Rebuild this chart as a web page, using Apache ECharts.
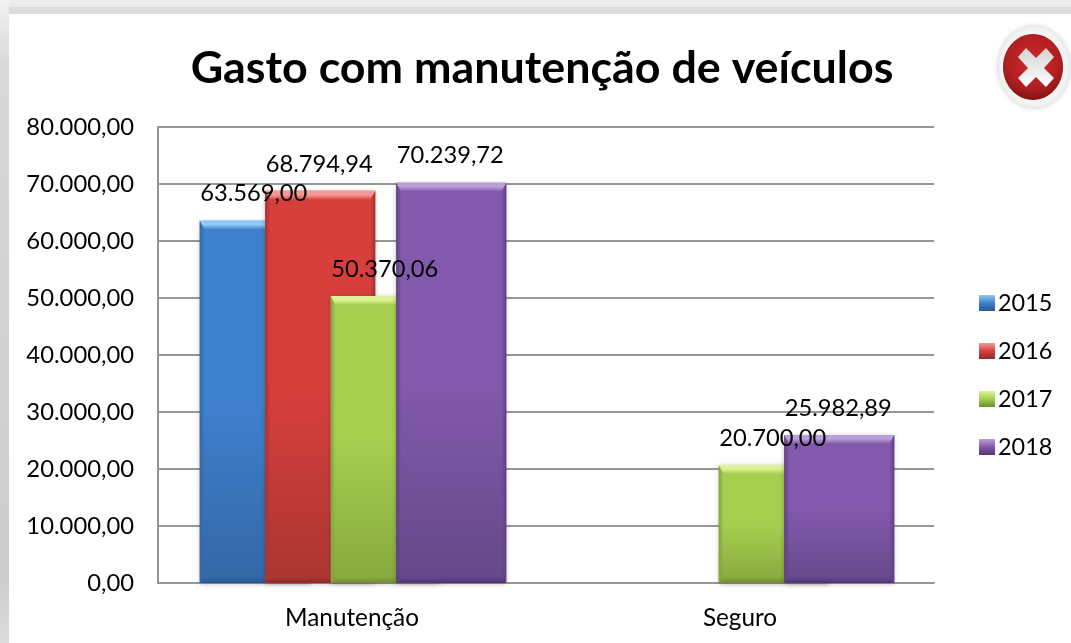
<!DOCTYPE html>
<html><head><meta charset="utf-8">
<style>html,body{margin:0;padding:0;background:#fff}#c{width:1071px;height:643px}</style>
<script src="https://cdn.jsdelivr.net/npm/echarts@6/dist/echarts.min.js"></script></head>
<body><div id="c"></div>
<script>
const categories = ['Manutenção', 'Seguro'];
const years = ['2015', '2016', '2017', '2018'];
const v2015 = [63569.00, null];
const v2016 = [68794.94, null];
const v2017 = [50370.06, 20700.00];
const v2018 = [70239.72, 25982.89];
const yTicks = [0, 80000, 10000];
const seriesValues = [v2015, v2016, v2017, v2018];
const palette = [
  {base:'#3f80cd', top:'#8fc8f7', side:'#34699f', bot:'#2a5a94', low:'#3467a6'},
  {base:'#d73f3c', top:'#f59a96', side:'#a83230', bot:'#8f2a28', low:'#ab3533'},
  {base:'#a6cf50', top:'#dcf294', side:'#82a340', bot:'#6f8c34', low:'#87a83e'},
  {base:'#8259ac', top:'#b9a0d8', side:'#5f4080', bot:'#4f3570', low:'#664889'}
];
const FONT = 'Lato, "Open Sans", sans-serif';
const fmt = v => v.toLocaleString('de-DE', {minimumFractionDigits: 2, maximumFractionDigits: 2});
const BAR = 110, STEP = 65.5, BT = 9, BS = 5, BB = 6;
const leftOf = (p, i) => p + 1 - (BAR + 3 * STEP) / 2 + i * STEP;

function renderBar(sIdx) {
  return function (params, api) {
    const v = api.value(1);
    if (v == null || isNaN(v)) return null;
    const p = api.coord([api.value(0), v]);
    const p0 = api.coord([api.value(0), 0]);
    const x = leftOf(p[0], sIdx), y = p[1], h = p0[1] - p[1], c = palette[sIdx];
    const G = echarts.graphic.LinearGradient;
    const body = new G(0, 0, 0, 1, [
      {offset: 0, color: c.base}, {offset: 0.5, color: c.base}, {offset: 1, color: c.low}]);
    const poly = (pts, fill) => ({type:'polygon', shape:{points:pts}, style:{fill}});
    const r = x + BAR, b = y + h;
    return {
      type:'group',
      children:[
        {type:'rect', shape:{x:x, y:y, width:BAR, height:h},
          style:{fill:body, shadowBlur:5, shadowColor:'rgba(0,0,0,0.3)', shadowOffsetY:1}},
        poly([[x,y],[x+BS,y+BT],[x+BS,b-BB],[x,b]], new G(0,0,1,0,[{offset:0,color:c.side},{offset:1,color:c.side+'00'}])),
        poly([[r,y],[r-BS,y+BT],[r-BS,b-BB],[r,b]], new G(1,0,0,0,[{offset:0,color:c.side},{offset:1,color:c.side+'00'}])),
        poly([[x,b],[x+BS,b-BB],[r-BS,b-BB],[r,b]], new G(0,1,0,0,[{offset:0,color:c.bot},{offset:1,color:c.bot+'00'}])),
        poly([[x,y],[r,y],[r-BS,y+BT],[x+BS,y+BT]], new G(0,0,0,1,[{offset:0,color:c.top},{offset:0.45,color:c.top},{offset:1,color:c.base}]))
      ]
    };
  };
}

function renderLabel(sIdx) {
  return function (params, api) {
    const v = api.value(1);
    if (v == null || isNaN(v)) return null;
    const p = api.coord([api.value(0), v]);
    return {type:'text', style:{x:leftOf(p[0], sIdx) + BAR / 2 - 1, y:p[1] - 27, text:fmt(v), align:'center',
      verticalAlign:'middle', fill:'#000', font:'23.7px ' + FONT}};
  };
}

const legendFill = c => new echarts.graphic.LinearGradient(0,0,0,1,[
  {offset:0,color:c.top},{offset:0.5,color:c.base},{offset:1,color:c.bot}]);

const option = {
  animation:false,
  backgroundColor:'#fff',
  textStyle:{fontFamily:FONT},
  title:{text:'Gasto com manutenção de veículos', left:537, top:41, textAlign:'center',
    textStyle:{fontSize:44.8, fontWeight:'bold', color:'#000', fontFamily:FONT}},
  grid:{left:158, right:137, top:127, bottom:60, containLabel:false},
  legend:{orient:'vertical', left:974, top:284, itemWidth:16, itemHeight:16, itemGap:20,
    textStyle:{fontSize:23.4, color:'#000', lineHeight:28, padding:[0,0,0,-2]},
    selectedMode:false,
    data:years.map((y,i)=>({name:y, icon:'rect', itemStyle:{color:legendFill(palette[i])}}))},
  xAxis:{type:'category', data:categories, axisTick:{show:false},
    axisLine:{lineStyle:{color:'#969696', width:2}},
    axisLabel:{fontSize:24.3, color:'#000', margin:23}},
  yAxis:{type:'value', min:yTicks[0], max:yTicks[1], interval:yTicks[2],
    axisLine:{show:true, lineStyle:{color:'#969696', width:2}},
    axisTick:{show:false},
    splitLine:{lineStyle:{color:'#969696', width:2}},
    axisLabel:{fontSize:23.8, color:'#000', margin:24, formatter:v=>fmt(v)}},
  series:seriesValues.map((vals,i)=>({
    type:'custom', name:years[i], renderItem:renderBar(i), z:2+i,
    encode:{x:0,y:1}, clip:false,
    itemStyle:{color:palette[i].base},
    data:vals.map((v,k)=>[k,v])
  })).concat(seriesValues.map((vals,i)=>({
    type:'custom', name:'label'+years[i], renderItem:renderLabel(i), z:20,
    encode:{x:0,y:1}, clip:false, silent:true,
    data:vals.map((v,k)=>[k,v])
  }))),
  graphic:[
    {type:'rect', silent:true, z:-1, shape:{x:0,y:0,width:1071,height:7}, style:{fill:'#ececec'}},
    {type:'rect', silent:true, z:-1, shape:{x:0,y:7,width:1071,height:7}, style:{fill:'#dcdcdc'}},
    {type:'rect', silent:true, z:-1, shape:{x:0,y:0,width:9,height:643},
      style:{fill:new echarts.graphic.LinearGradient(0,0,0,1,[{offset:0,color:'#f2f2f2'},{offset:0.1,color:'#d8d8d8'},{offset:0.9,color:'#cccccc'},{offset:1,color:'#dcdcdc'}])}},
    {type:'ellipse', silent:true, z:10, shape:{cx:1034,cy:67,rx:36,ry:41},
      style:{fill:'#f4f4f4', stroke:'#e8e8e8', lineWidth:1, shadowBlur:4, shadowColor:'rgba(0,0,0,0.12)'}},
    {type:'ellipse', silent:true, z:11, shape:{cx:1033,cy:67,rx:30,ry:33},
      style:{fill:new echarts.graphic.RadialGradient(0.5,0.42,0.6,[{offset:0,color:'#d02a2a'},{offset:0.7,color:'#b31f22'},{offset:1,color:'#8c1518'}])}},
    {type:'polygon', silent:true, z:12, shape:{points:[
      [1026,48],[1036,58],[1046,48],[1054,57],[1044,68],[1054,78],[1046,87],[1036,77],[1026,87],[1018,78],[1028,68],[1018,57]]},
      style:{fill:new echarts.graphic.LinearGradient(0,0,0,1,[{offset:0,color:'#d4d4d4'},{offset:1,color:'#ffffff'}])}}
  ]
};
const chart = echarts.init(document.getElementById('c'), null, {renderer:'canvas'});
chart.setOption(option);
</script></body></html>
